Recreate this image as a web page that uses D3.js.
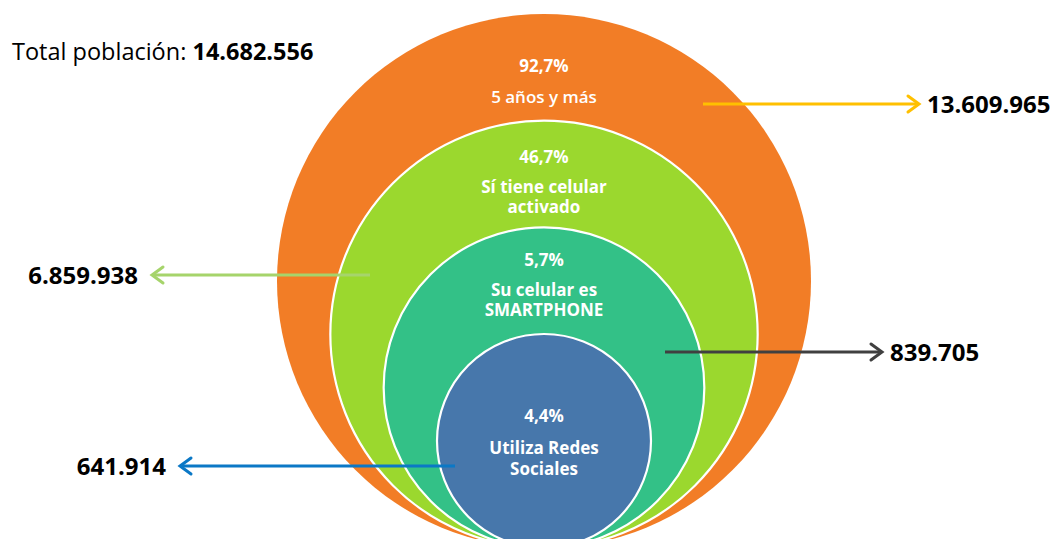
<!DOCTYPE html>
<html>
<head>
<meta charset="utf-8">
<script src="https://cdn.jsdelivr.net/npm/d3@7"></script>
<style>
  html, body { margin: 0; padding: 0; background: #fff; }
  svg { display: block; font-family: "Open Sans", Lato, sans-serif; }
</style>
</head>
<body>
<svg id="chart" width="1054" height="539"></svg>
<script>
// ---- data ----
const totalPopulation = 14682556;
const categories = ["5 años y más", "Sí tiene celular activado", "Su celular es SMARTPHONE", "Utiliza Redes Sociales"];
const labelLines = [["5 años y más"], ["Sí tiene celular", "activado"], ["Su celular es", "SMARTPHONE"], ["Utiliza Redes", "Sociales"]];
const values = [13609965, 6859938, 839705, 641914];
const fillColors = ["#F27D26", "#9BD82E", "#33C187", "#4777AB"];
const arrowColors = ["#FFC000", "#A6D46B", "#404040", "#0B78C6"];

// ---- formatting ----
const locale = d3.formatLocale({ decimal: ",", thousands: ".", grouping: [3], currency: ["", ""] });
const fmtNum = locale.format(",");
const fmtPct = locale.format(".1%");

// ---- layout ----
const cx = 544, bottom = 548;
const rScale = d3.scaleLinear().domain([0, categories.length - 1]).range([267, 107]);

// annotation layout per ring: arrow y, start x, tip x, side
const annot = [
  { y: 104, x0: 703, x1: 919, side: "right" },
  { y: 275, x0: 370, x1: 152, side: "left" },
  { y: 352, x0: 665, x1: 882, side: "right" },
  { y: 466, x0: 455, x1: 180, side: "left" }
];
// text offsets from circle top
const pctOffset = [58, 42, 39, 88];
const lineOffsets = [[89], [72, 92], [69, 89], [120, 141]];

const svg = d3.select("#chart");

const rings = categories.map((c, i) => ({
  name: c, value: values[i], lines: labelLines[i], r: rScale(i),
  cy: bottom - rScale(i), top: bottom - 2 * rScale(i)
}));

// circles
svg.selectAll("circle.ring").data(rings).join("circle")
  .attr("class", "ring")
  .attr("cx", cx).attr("cy", d => d.cy).attr("r", d => d.r)
  .attr("fill", (d, i) => fillColors[i])
  .attr("stroke", (d, i) => i === 0 ? "none" : "#fff")
  .attr("stroke-width", 2.2);

// in-circle labels
rings.forEach((d, i) => {
  svg.append("text")
    .attr("x", cx).attr("y", d.top + pctOffset[i])
    .attr("text-anchor", "middle").attr("fill", "#fff")
    .attr("font-weight", 700).attr("font-size", 17)
    .text(fmtPct(d.value / totalPopulation));
  d.lines.forEach((ln, j) => {
    svg.append("text")
      .attr("x", cx).attr("y", d.top + lineOffsets[i][j])
      .attr("text-anchor", "middle").attr("fill", "#fff")
      .attr("font-weight", i === 0 ? 600 : 700).attr("font-size", 17)
      .text(ln);
  });
});

// arrows
rings.forEach((d, i) => {
  const a = annot[i];
  const col = arrowColors[i];
  const dir = a.x1 > a.x0 ? 1 : -1;
  const g = svg.append("g");
  g.append("line")
    .attr("x1", a.x0).attr("y1", a.y).attr("x2", a.x1 - dir * 1).attr("y2", a.y)
    .attr("stroke", col).attr("stroke-width", 3);
  g.append("path")
    .attr("d", `M${a.x1 - dir * 11},${a.y - 8} L${a.x1},${a.y} L${a.x1 - dir * 11},${a.y + 8}`)
    .attr("fill", "none").attr("stroke", col).attr("stroke-width", 3)
    .attr("stroke-linecap", "round").attr("stroke-linejoin", "miter");
  svg.append("text")
    .attr("x", a.side === "right" ? a.x1 + 8 : a.x1 - 14)
    .attr("y", a.y + 8.5)
    .attr("text-anchor", a.side === "right" ? "start" : "end")
    .attr("font-weight", 700).attr("font-size", 24).attr("fill", "#000")
    .text(fmtNum(d.value));
});

// total
const t = svg.append("text").attr("x", 12).attr("y", 60).attr("font-size", 23.5).attr("fill", "#000");
t.append("tspan").text("Total población: ");
t.append("tspan").attr("font-weight", 700).text(fmtNum(totalPopulation));
</script>
</body>
</html>
